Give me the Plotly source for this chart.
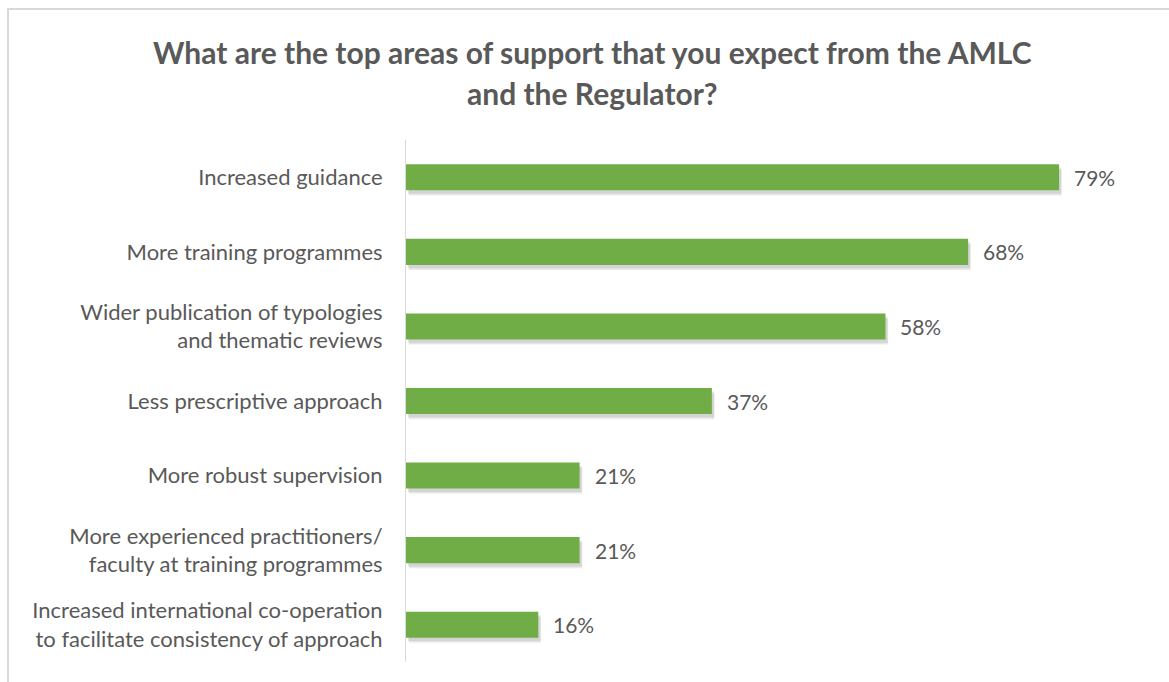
import plotly.graph_objects as go

# Survey responses: share of respondents selecting each area of support
categories = [
    "Increased guidance",
    "More training programmes",
    "Wider publication of typologies<br>and thematic reviews",
    "Less prescriptive approach",
    "More robust supervision",
    "More experienced practitioners/<br>faculty at training programmes",
    "Increased international co-operation<br>to facilitate consistency of approach",
]
values = [79, 68, 58, 37, 21, 21, 16]

title_lines = [
    "What are the top areas of support that you expect from the AMLC",
    "and the Regulator?",
]

GREEN = "#70AD47"
TEXT = "#595959"
GRID = "#D9D9D9"
FONT = "Lato"

W, H = 1169, 682
ML, MR, MT, MB = 406, 19, 140, 20
PW, PH = W - ML - MR, H - MT - MB
BAR_W = 0.35


def px_x(x):
    """Pixel column -> plot-area paper fraction."""
    return (x - ML) / PW


def px_y(y):
    """Pixel row (from top) -> plot-area paper fraction."""
    return (H - MB - y) / PH


fig = go.Figure()

# soft drop shadow built from a few translucent layers behind each bar
for dy, dx, a in [(0.075, 0.35, 0.04), (0.06, 0.3, 0.06), (0.045, 0.25, 0.08)]:
    fig.add_trace(go.Bar(
        y=categories, x=values, orientation="h",
        base=dx, width=BAR_W, offset=-BAR_W / 2 + dy,
        marker=dict(color=f"rgba(0,0,0,{a})", line=dict(width=0)),
        hoverinfo="skip", showlegend=False,
    ))

fig.add_trace(go.Bar(
    y=categories, x=values, orientation="h",
    width=BAR_W, offset=-BAR_W / 2,
    marker=dict(color=GREEN, line=dict(width=0)),
    showlegend=False,
))

# value labels to the right of each bar
for c, v in zip(categories, values):
    fig.add_annotation(
        x=v, y=c, xref="x", yref="y", text=f"{v}%", showarrow=False,
        xanchor="left", xshift=13, font=dict(family=FONT, size=21, color=TEXT),
    )

# two-line centered title
for i, line in enumerate(title_lines):
    fig.add_annotation(
        x=px_x(592), y=px_y(52 + 41 * i), xref="paper", yref="paper",
        text=f"<b>{line}</b>", showarrow=False, xanchor="center", yanchor="middle",
        font=dict(family=FONT, size=30, color=TEXT),
    )

# light frame around the chart area
fig.add_shape(
    type="rect", xref="paper", yref="paper",
    x0=px_x(8), x1=px_x(1200), y0=px_y(720), y1=px_y(9),
    line=dict(color=GRID, width=2), layer="below",
)

fig.update_layout(
    width=W, height=H,
    margin=dict(l=ML, r=MR, t=MT, b=MB),
    barmode="overlay",
    paper_bgcolor="white", plot_bgcolor="white",
    font=dict(family=FONT, color=TEXT),
    xaxis=dict(range=[0, 90], visible=False, fixedrange=True),
    yaxis=dict(
        autorange="reversed", showgrid=False, zeroline=False,
        showline=True, linecolor=GRID, linewidth=1,
        ticks="", ticklabelstandoff=18,
        tickfont=dict(family=FONT, size=22, color=TEXT),
    ),
)

fig.write_html("out.html")
